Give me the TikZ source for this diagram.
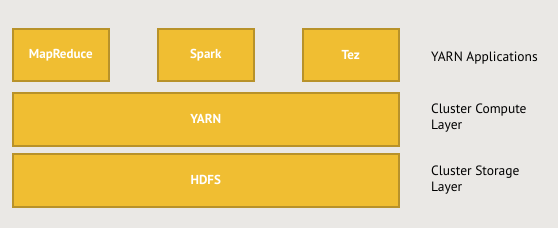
\documentclass[tikz,border=0pt]{standalone}
\usepackage{fontspec}
\setmainfont{PT Sans}
\definecolor{bg}{HTML}{EAE8E5}
\definecolor{boxfill}{HTML}{F0BE32}
\definecolor{boxline}{HTML}{B8922A}
\begin{document}
\begin{tikzpicture}[x=1pt,y=-1pt,
  layerbox/.style={draw=boxline, line width=1.5pt, fill=boxfill, text=white, font=\fontsize{13}{15}\selectfont\bfseries, anchor=north west, inner sep=0pt},
  desc/.style={text=black, font=\fontsize{13.5}{16}\selectfont, anchor=west, align=left, inner sep=0pt}]
\fill[bg] (0,0) rectangle (558,228);
\useasboundingbox (0,0) rectangle (558,228);
\node[layerbox, minimum width=96pt, minimum height=52pt] (mr) at (12,28) {MapReduce};
\node[layerbox, minimum width=96pt, minimum height=52pt] (spark) at (157,28) {Spark};
\node[layerbox, minimum width=96pt, minimum height=52pt] (tez) at (302,28) {Tez};
\node[layerbox, minimum width=386pt, minimum height=53pt] (yarn) at (12,92) {YARN};
\node[layerbox, minimum width=386pt, minimum height=53pt] (hdfs) at (12,153) {HDFS};
\node[desc] (apps) at (431,58) {YARN Applications};
\node[desc] (compute) at (431,118) {Cluster Compute\\Layer};
\node[desc] (storage) at (431,180) {Cluster Storage\\Layer};
\end{tikzpicture}
\end{document}
